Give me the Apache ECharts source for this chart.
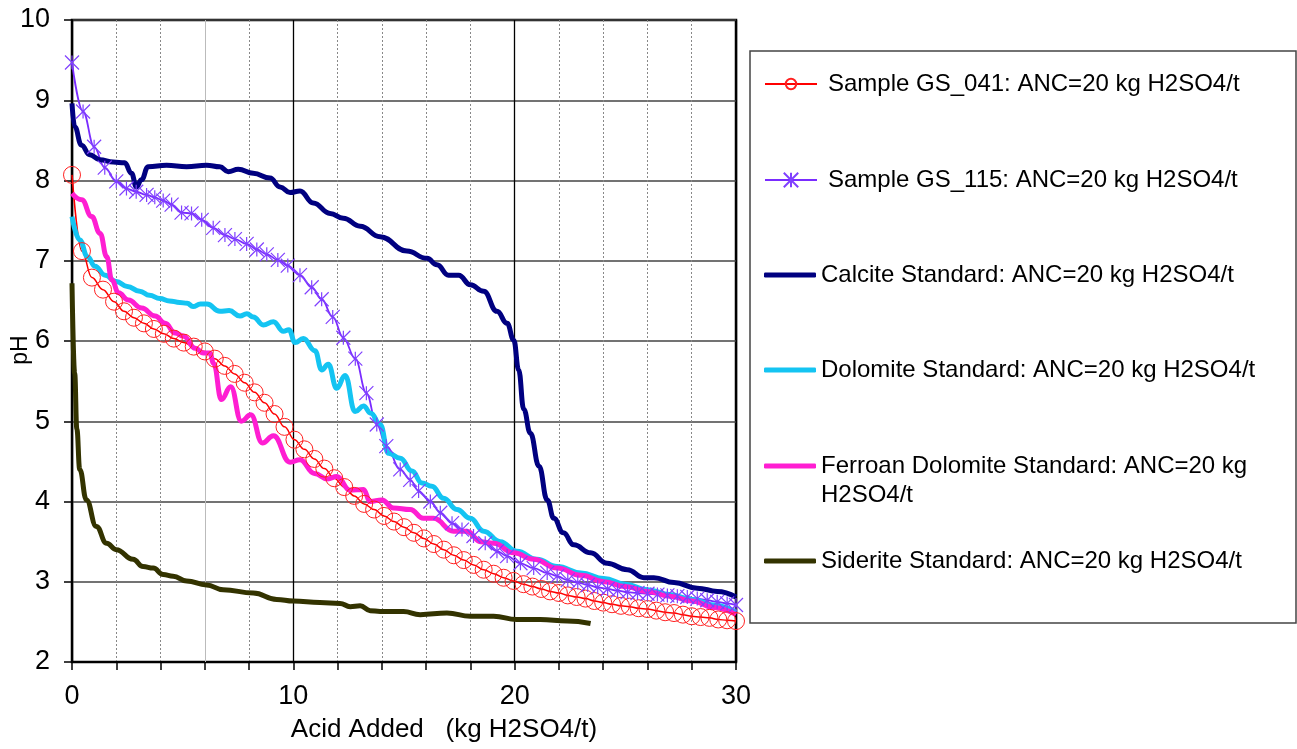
<!DOCTYPE html>
<html lang="en">
<head>
<meta charset="UTF-8" />
<title>Acid titration curves</title>
<script src="https://cdn.jsdelivr.net/npm/echarts@6/dist/echarts.min.js"></script>
<style>
  html, body { margin: 0; padding: 0; background: #fff; }
  #chart { width: 1297px; height: 749px; }
</style>
</head>
<body>
<div id="chart"></div>
<script>
const FONT = "'Liberation Sans', Arial, sans-serif";

// axis ranges
const xMin = 0, xMax = 30, xStep = 10;
const yMin = 2, yMax = 10, yStep = 1;

const seriesNames = [
  "Sample GS_041: ANC=20 kg H2SO4/t",
  "Sample GS_115: ANC=20 kg H2SO4/t",
  "Calcite Standard: ANC=20 kg H2SO4/t",
  "Dolomite Standard: ANC=20 kg H2SO4/t",
  "Ferroan Dolomite Standard: ANC=20 kg H2SO4/t",
  "Siderite Standard: ANC=20 kg H2SO4/t"
];

// Sample GS_041
const gs041Acid = [0,0.45,0.9,1.4,1.9,2.35,2.8,3.25,3.7,4.15,4.6,5.05,5.5,6,6.45,6.9,7.35,7.8,8.25,8.7,9.15,9.6,10.05,10.5,10.95,11.4,11.85,12.3,12.75,13.2,13.65,14.1,14.55,15,15.45,15.9,16.35,16.8,17.25,17.7,18.15,18.6,19.05,19.5,19.95,20.4,20.8,21.2,21.6,22,22.4,22.8,23.2,23.6,24,24.4,24.8,25.2,25.6,26,26.4,26.8,27.2,27.6,28,28.4,28.8,29.2,29.6,30];
const gs041PH = [8.07,7.12,6.79,6.64,6.49,6.37,6.29,6.22,6.15,6.09,6.03,5.98,5.93,5.87,5.78,5.69,5.59,5.48,5.36,5.23,5.09,4.93,4.77,4.65,4.53,4.41,4.29,4.18,4.07,3.97,3.90,3.82,3.75,3.68,3.61,3.54,3.47,3.40,3.33,3.27,3.21,3.15,3.10,3.05,3.01,2.97,2.94,2.91,2.88,2.86,2.83,2.81,2.79,2.76,2.74,2.72,2.70,2.69,2.67,2.66,2.64,2.62,2.61,2.59,2.57,2.56,2.55,2.53,2.52,2.51];

// Sample GS_115
const gs115Acid = [0,0.5,1.0,1.48,2.0,2.46,2.9,3.37,3.74,4.12,4.5,4.95,5.4,5.86,6.38,6.91,7.36,7.89,8.35,8.8,9.3,9.75,10.3,10.83,11.28,11.78,12.26,12.8,13.3,13.77,14.2,14.83,15.28,15.66,16.19,16.64,17.17,17.62,18.14,18.67,19.2,19.66,20.26,20.86,21.47,21.92,22.4,22.85,23.3,23.75,24.2,24.65,25.1,25.55,26,26.45,26.9,27.35,27.8,28.25,28.7,29.15,29.6,30];
const gs115PH = [9.47,8.86,8.42,8.16,7.99,7.90,7.86,7.82,7.79,7.75,7.70,7.60,7.59,7.51,7.41,7.32,7.27,7.21,7.14,7.08,7.01,6.94,6.82,6.67,6.52,6.30,6.04,5.78,5.35,4.96,4.69,4.40,4.27,4.13,4.00,3.86,3.73,3.65,3.57,3.48,3.38,3.32,3.23,3.17,3.11,3.07,3.02,2.99,2.96,2.93,2.91,2.89,2.87,2.86,2.85,2.84,2.83,2.82,2.81,2.79,2.77,2.75,2.73,2.71];

// Calcite standard
const calciteAcid = [0,0.12,0.43,0.8,1.25,1.86,2.38,2.69,2.91,3.14,3.44,4.27,5.18,6.08,6.68,7.06,7.51,8.19,8.95,9.4,9.85,10.3,10.9,11.66,12.26,13.02,13.92,15.13,16.04,16.49,17.01,17.47,18.0,18.6,19.2,19.66,19.96,20.18,20.41,20.71,21.1,21.47,21.77,22.2,22.67,23.43,24.18,25.09,25.84,26.29,27.2,28.25,29.16,30];
const calcitePH = [8.96,8.67,8.44,8.32,8.26,8.23,8.22,8.09,7.92,8.01,8.17,8.19,8.17,8.19,8.17,8.11,8.14,8.09,8.03,7.92,7.85,7.87,7.72,7.59,7.53,7.43,7.30,7.12,7.03,6.95,6.82,6.82,6.70,6.62,6.37,6.22,6.01,5.64,5.15,4.85,4.44,4.02,3.79,3.61,3.46,3.36,3.23,3.15,3.05,3.05,2.99,2.92,2.88,2.81];

// Dolomite standard
const dolomiteAcid = [0,0.35,0.7,1.04,1.5,2.0,2.5,3.06,3.5,3.97,4.4,4.87,5.2,5.47,5.8,6.1,6.68,7.1,7.59,7.9,8.19,8.64,9.1,9.55,9.8,10.08,10.45,10.98,11.28,11.58,11.96,12.34,12.79,13.17,13.5,13.92,14.3,14.83,15.36,15.81,16.26,16.79,17.39,18.0,18.6,19.35,20.1,21.0,21.92,23.0,24.03,25.0,26.0,27.0,28.03,29.0,30];
const dolomitePH = [7.55,7.26,7.05,6.93,6.82,6.74,6.68,6.62,6.57,6.53,6.50,6.48,6.47,6.43,6.46,6.46,6.37,6.38,6.31,6.34,6.30,6.20,6.24,6.12,6.14,5.98,6.03,5.88,5.64,5.71,5.41,5.57,5.12,5.19,5.10,4.96,4.60,4.54,4.38,4.23,4.19,4.04,3.90,3.79,3.63,3.50,3.38,3.28,3.19,3.11,3.04,2.97,2.90,2.84,2.78,2.71,2.62];

// Ferroan dolomite standard
const ferroanAcid = [0,0.44,0.89,1.27,1.57,1.8,2.1,2.55,3.15,3.76,4.21,4.66,5.04,5.57,5.93,6.23,6.4,6.75,7.17,7.65,8.08,8.6,9.1,9.85,10.3,10.95,11.55,11.96,12.57,13.17,13.47,14.0,14.52,15.28,15.88,16.33,17.24,17.85,18.45,19.05,19.96,20.86,21.92,23.0,24.03,25.0,26.0,27.0,28.03,29.0,30];
const ferroanPH = [7.84,7.76,7.55,7.34,7.05,6.76,6.60,6.51,6.41,6.31,6.22,6.10,6.06,5.91,5.85,5.85,5.72,5.27,5.43,5.00,5.08,4.73,4.82,4.49,4.52,4.35,4.28,4.31,4.14,4.15,4.00,4.02,3.92,3.90,3.79,3.79,3.63,3.63,3.50,3.48,3.36,3.28,3.17,3.08,3.00,2.94,2.88,2.82,2.76,2.68,2.59];

// Siderite standard
const sideriteAcid = [0,0.12,0.22,0.35,0.65,1.1,1.56,2.0,2.76,3.21,3.67,4.12,4.57,5.18,6.08,6.83,8.19,9.25,10.0,11.2,12.11,12.57,13.02,13.47,13.92,14.98,15.73,16.94,18.0,19.05,20.1,21.16,22.37,23.43];
const sideritePH = [6.72,5.6,4.9,4.40,4.02,3.69,3.48,3.40,3.28,3.19,3.17,3.09,3.07,3.01,2.96,2.90,2.86,2.78,2.76,2.74,2.73,2.69,2.70,2.64,2.63,2.63,2.59,2.61,2.57,2.57,2.53,2.53,2.51,2.48];

const zip = (xs, ys) => xs.map((x, i) => [x, ys[i]]);

const chart = echarts.init(document.getElementById("chart"));

// thick smoothed line without markers
const plainLine = (name, data, color) => ({
  name: name,
  type: "line",
  data: data,
  symbol: "none",
  smooth: 0.45,
  smoothMonotone: "x",
  lineStyle: { color: color, width: 5 },
  itemStyle: { color: color }
});

// one legend per entry so rows can sit where the reference has them
const legendCenters = [84, 180, 275, 370, 466, 561];
const legends = seriesNames.map((name, i) => {
  const twoLines = i === 4;
  const marked = i < 2;
  return {
    left: 764,
    top: legendCenters[i] - (twoLines ? 43.5 : 14.5),
    orient: "vertical",
    padding: 0,
    selectedMode: false,
    itemWidth: 52,
    itemHeight: i === 0 ? 13 : i === 1 ? 18 : 5,
    icon: marked ? undefined : "roundRect",
    data: [name],
    // empty first line keeps the icon level with the first text line
    formatter: twoLines ? (n) => "\n" + n.replace(" H2SO4/t", "\nH2SO4/t") : "{name}",
    textStyle: {
      fontFamily: FONT,
      fontSize: 24,
      color: "#000",
      lineHeight: 29,
      padding: marked ? [0, 0, 0, 6] : 0
    }
  };
});

const option = {
  animation: false,
  backgroundColor: "#fff",
  grid: {
    left: 72, top: 20, width: 664, height: 642,
    containLabel: false,
    outerBoundsMode: "none",
    show: true, borderColor: "#000", borderWidth: 2.5
  },
  legend: legends,
  graphic: [{
    type: "rect",
    shape: { x: 750, y: 51, width: 546, height: 572 },
    style: { fill: "none", stroke: "#444", lineWidth: 1.5 },
    z: 0
  }],
  xAxis: {
    type: "value",
    min: xMin, max: xMax, interval: xStep,
    name: "Acid Added   (kg H2SO4/t)",
    nameLocation: "middle",
    nameGap: 55,
    nameMoveOverlap: false,
    nameTextStyle: { fontFamily: FONT, fontSize: 26, color: "#000", padding: [0, 0, 0, 80] },
    axisLine: { lineStyle: { color: "#000", width: 2 } },
    axisTick: { show: true, length: 8, lineStyle: { color: "#000", width: 1.5 } },
    minorTick: { show: true, splitNumber: 5, length: 8, lineStyle: { color: "#000", width: 1.5 } },
    axisLabel: { fontFamily: FONT, fontSize: 27, color: "#000", margin: 21 },
    splitLine: { show: true, lineStyle: { color: "#000", width: 1.3 } },
    minorSplitLine: { show: true, lineStyle: { color: "#888", width: 1, type: [2, 2] } }
  },
  yAxis: {
    type: "value",
    min: yMin, max: yMax, interval: yStep,
    name: "pH",
    nameLocation: "middle",
    nameRotate: 90,
    nameGap: 40,
    nameMoveOverlap: false,
    nameTextStyle: { fontFamily: FONT, fontSize: 23, color: "#000", padding: [0, 18, 0, 0] },
    axisLine: { lineStyle: { color: "#000", width: 2 } },
    axisTick: { show: true, length: 8, lineStyle: { color: "#000", width: 1.5 } },
    axisLabel: { fontFamily: FONT, fontSize: 27, color: "#000", margin: 22 },
    splitLine: { show: true, lineStyle: { color: "#444", width: 1.5 } }
  },
  series: [
    {
      name: seriesNames[0],
      type: "line",
      data: zip(gs041Acid, gs041PH),
      symbol: "circle",
      symbolSize: 17,
      smooth: 0.4,
      smoothMonotone: "x",
      lineStyle: { color: "#ff0000", width: 1.5 },
      itemStyle: { color: "rgba(0,0,0,0)", borderColor: "#ff2020", borderWidth: 1 },
      markLine: {
        silent: true,
        z: 1,
        symbol: "none",
        label: { show: false },
        lineStyle: { color: "#bbb", type: "solid", width: 1 },
        data: [{ xAxis: 6 }]
      }
    },
    {
      name: seriesNames[1],
      type: "line",
      data: zip(gs115Acid, gs115PH),
      symbol: "path://M5 0L5 10M0 0L10 10M0 10L10 0",
      symbolSize: 14,
      smooth: 0.4,
      smoothMonotone: "x",
      lineStyle: { color: "#7a2cff", width: 1.8 },
      itemStyle: { color: "rgba(0,0,0,0)", borderColor: "#8040ff", borderWidth: 1.2 }
    },
    plainLine(seriesNames[2], zip(calciteAcid, calcitePH), "#000080"),
    plainLine(seriesNames[3], zip(dolomiteAcid, dolomitePH), "#14c4f2"),
    plainLine(seriesNames[4], zip(ferroanAcid, ferroanPH), "#ff1ed2"),
    plainLine(seriesNames[5], zip(sideriteAcid, sideritePH), "#333300")
  ]
};

chart.setOption(option);
</script>
</body>
</html>
